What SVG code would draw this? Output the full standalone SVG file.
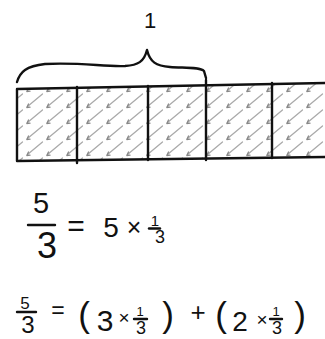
<svg xmlns="http://www.w3.org/2000/svg" width="325" height="339" viewBox="0 0 325 339">
<defs>
<style>
.ink{fill:none;stroke:#111;stroke-width:2.4;stroke-linecap:round;stroke-linejoin:round}
.t{font-family:"Liberation Sans","DejaVu Sans",sans-serif;fill:#111;text-anchor:middle}
</style>
<pattern id="hatch" width="20" height="16" patternUnits="userSpaceOnUse" x="4" y="93">
<path d="M18.5,1 L3.5,13.5" stroke="#aaa" stroke-width="1.3" stroke-linecap="round" fill="none"/>
<path d="M4.5,11 L2.8,14.5 L6,14.2" stroke="#888" stroke-width="1.3" stroke-linecap="round" stroke-linejoin="round" fill="none"/>
</pattern>
</defs>
<rect width="325" height="339" fill="#fff"/>
<g id="bar">
<path d="M17,89 L325,83 L325,157 L17,161 Z" fill="url(#hatch)"/>
<path class="ink" d="M17,89 L325,83 M17,89 L17,161 L325,157"/>
<path class="ink" d="M77,87 L77,163 M148,86 L148,160 M206,80 L206,160 M272,83 L272,158"/>
</g>
<g id="brace">
<path class="ink" d="M17,82 C20,72 26,66 45,64 C80,62 105,67 125,66 C138,65 144,62 147,50 C150,62 156,66 170,67 C185,68 200,67 204,71 L206,78"/>
<text class="t" x="150" y="28" font-size="22">1</text>
</g>
<g id="eq1">
<text class="t" x="41" y="213" font-size="29">5</text>
<path class="ink" d="M28,225 L55,225"/>
<text class="t" x="47" y="258" font-size="36">3</text>
<text class="t" x="76" y="236" font-size="30">=</text>
<text class="t" x="111" y="237" font-size="28">5</text>
<text class="t" x="134" y="236" font-size="25">×</text>
<text class="t" x="155" y="226" font-size="15">1</text>
<path class="ink" d="M149,228.5 L160,228.5"/>
<text class="t" x="160" y="243" font-size="18">3</text>
</g>
<g id="eq2">
<text class="t" x="25" y="309" font-size="17">5</text>
<path class="ink" d="M17,312 L36,312"/>
<text class="t" x="28" y="333" font-size="24">3</text>
<text class="t" x="58" y="318" font-size="23">=</text>
<text class="t" x="84" y="327" font-size="35">(</text>
<text class="t" x="105" y="331" font-size="30">3</text>
<text class="t" x="124" y="324" font-size="19">×</text>
<text class="t" x="140" y="316" font-size="13">1</text>
<path class="ink" d="M134,319 L147,319"/>
<text class="t" x="141" y="334" font-size="18">3</text>
<text class="t" x="168" y="327" font-size="35">)</text>
<text class="t" x="198" y="321" font-size="26">+</text>
<text class="t" x="221" y="327" font-size="35">(</text>
<text class="t" x="240" y="331" font-size="28">2</text>
<text class="t" x="262" y="326" font-size="19">×</text>
<text class="t" x="276" y="316" font-size="13">1</text>
<path class="ink" d="M270,319 L282,319"/>
<text class="t" x="277" y="334" font-size="18">3</text>
<text class="t" x="300" y="327" font-size="35">)</text>
</g>
</svg>
